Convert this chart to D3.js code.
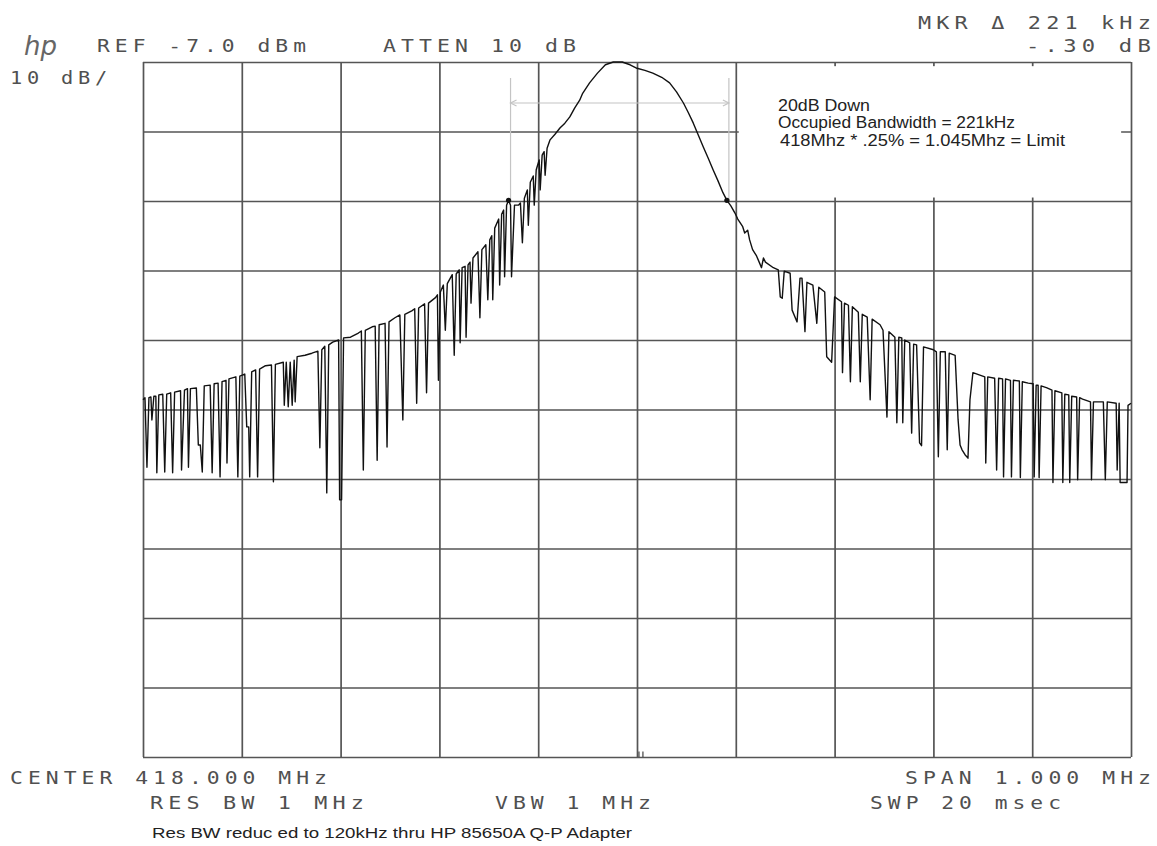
<!DOCTYPE html>
<html>
<head>
<meta charset="utf-8">
<script src="https://cdn.jsdelivr.net/npm/d3@7"></script>
<style>
  body { margin: 0; background: #fff; }
  .plot { font-family: "DejaVu Sans Mono", monospace; fill: #505050; letter-spacing: 4px; }
  .note { font-family: "Liberation Sans", Arial, sans-serif; fill: #222; }
</style>
</head>
<body>
<div id="chart"></div>
<script>
// trace: [offset from center in kHz, level in dBm]
const leftSkirt = [
  [-500,-55.6],[-498,-55.3],[-496,-65.3],[-494,-55.3],[-492,-55.2],[-491,-58.5],[-489,-55.1],
  [-487,-55.1],[-486,-66.1],[-484,-54.9],[-480,-54.8],[-478,-66.0],[-476,-54.8],[-472,-54.6],
  [-470,-66.1],[-468,-54.5],[-462,-54.3],[-461,-65.7],[-458,-54.2],[-455,-54.0],[-454,-65.3],
  [-452,-54.0],[-446,-53.9],[-444,-62.1],[-442,-62.1],[-440,-66.0],[-438,-53.6],[-432,-53.5],
  [-430,-66.1],[-428,-53.3],[-424,-53.2],[-422,-66.7],[-420,-53.0],[-416,-52.8],[-415,-64.7],
  [-413,-52.6],[-406,-52.3],[-404,-66.7],[-402,-52.2],[-397,-51.9],[-395,-59.5],[-393,-59.5],
  [-392,-66.7],[-390,-51.6],[-386,-51.3],[-384,-66.7],[-382,-51.2],[-376,-50.7],[-370,-50.6],
  [-368,-67.4],[-366,-50.5],[-358,-50.2],[-357,-56.4],[-355,-50.2],[-353,-56.6],[-351,-50.2],
  [-349,-56.4],[-347,-49.9],[-346,-55.9],[-344,-49.4],[-336,-49.2],[-329,-48.9],[-323,-48.6],
  [-321,-62.5],[-319,-48.4],[-316,-47.9],[-314,-69.0],[-312,-47.7],[-308,-47.3],[-302,-47.0],
  [-301,-70.0],[-299,-70.0],[-297,-46.7],[-290,-46.6],[-282,-46.0],[-279,-45.7],[-277,-65.7],
  [-275,-45.6],[-268,-45.1],[-265,-45.0],[-263,-64.3],[-261,-44.8],[-255,-44.6],[-253,-62.4],
  [-251,-44.4],[-245,-43.8],[-240,-43.4],[-237,-58.5],[-235,-43.3],[-228,-42.8],[-225,-42.5],
  [-223,-56.1],[-221,-42.4],[-215,-41.8],[-213,-54.6],[-211,-41.7],[-204,-40.9]
]

const mainLobe = [
  [-202,-40.5],[-201,-52.8],[-199,-40.1],[-196,-39.1],[-194,-45.6],[-192,-38.9],[-187,-37.6],
  [-185,-49.2],[-183,-37.5],[-180,-36.9],[-179,-47.4],[-177,-36.6],[-174,-36.4],[-173,-46.6],
  [-171,-36.2],[-169,-35.8],[-168,-41.7],[-166,-35.2],[-161,-34.3],[-159,-43.8],[-157,-34.0],
  [-153,-33.3],[-151,-41.2],[-149,-32.6],[-147,-32.0],[-146,-41.2],[-144,-30.9],[-140,-29.6],
  [-139,-39.1],[-137,-28.9],[-135,-28.3],[-134,-37.9],[-132,-27.6],[-130,-26.9],[-128,-27.6],
  [-127,-37.9],[-124,-27.6],[-120,-27.6],[-118,-27.3],[-116,-33.0],[-114,-26.6],[-111,-25.4],
  [-110,-30.5],[-108,-24.3],[-105,-23.4],[-104,-27.6],[-102,-22.5],[-99,-21.1],[-98,-25.4],
  [-96,-20.4],[-94,-19.9],[-93,-23.3],[-91,-19.4],[-88,-18.2],[-83,-17.4],[-78,-16.5],
  [-73,-15.8],[-68,-14.9],[-63,-13.6],[-58,-12.5],[-55,-11.5],[-48,-10.0],[-40,-8.6],
  [-32,-7.4],[-24,-7.0],[-15,-7.0],[-7,-7.4],[0,-7.9],[8,-8.2],[16,-8.6],[25,-9.2],
  [33,-10.0],[40,-11.3],[47,-12.9],[52,-14.3],[57,-15.8],[62,-17.5],[67,-19.2],[72,-20.8],
  [77,-22.5],[82,-24.1],[87,-25.8],[91,-26.9],[95,-27.7],[99,-28.7],[102,-29.6],[107,-30.7],
  [109,-31.6],[112,-31.2],[114,-32.6],[117,-34.0],[121,-34.9],[124,-35.9],[126,-36.6],
  [128,-35.2],[130,-35.8],[138,-36.6],[143,-36.9]
]

const rightSkirt = [
  [145,-40.8],[147,-41.0],[149,-37.1],[155,-37.4],[157,-42.7],[162,-44.4],[165,-38.1],
  [167,-38.1],[170,-45.8],[172,-38.7],[178,-39.1],[182,-44.6],[184,-39.4],[190,-40.1],
  [192,-49.4],[197,-50.2],[200,-40.8],[207,-41.5],[208,-51.7],[210,-41.7],[214,-42.0],
  [216,-53.0],[218,-42.2],[224,-43.0],[226,-53.0],[228,-43.3],[233,-43.7],[236,-55.6],
  [238,-44.0],[246,-44.8],[249,-45.6],[253,-58.1],[255,-45.8],[261,-46.6],[263,-58.9],
  [265,-46.6],[268,-46.7],[269,-58.9],[271,-47.0],[276,-47.4],[278,-60.4],[280,-47.6],
  [283,-47.7],[286,-61.8],[288,-62.2],[290,-48.0],[300,-48.4],[303,-48.7],[305,-63.8],
  [307,-48.7],[312,-48.7],[314,-62.8],[316,-48.9],[322,-49.2],[325,-58.5],[327,-62.1],
  [329,-62.8],[332,-63.5],[335,-64.0],[337,-55.6],[340,-51.7],[352,-52.3],[353,-64.7],
  [355,-52.3],[362,-52.5],[364,-65.7],[366,-52.5],[370,-52.6],[371,-66.7],[373,-52.6],
  [378,-52.8],[379,-66.7],[381,-52.8],[387,-52.9],[388,-66.8],[390,-53.0],[396,-53.2],
  [401,-53.3],[402,-66.7],[404,-53.5],[406,-53.5],[407,-66.8],[409,-53.6],[415,-53.9],
  [420,-54.2],[421,-67.5],[423,-54.3],[430,-54.6],[431,-67.5],[433,-54.8],[437,-54.9],
  [438,-67.5],[440,-55.1],[445,-55.2],[446,-67.1],[448,-55.3],[451,-55.5],[459,-55.9],
  [460,-67.1],[462,-55.9],[472,-55.9],[474,-67.1],[476,-55.9],[485,-56.1],[486,-65.7],
  [488,-56.1],[489,-67.5],[496,-67.5],[497,-56.4],[500,-56.1]
]

// 20 dB down markers and occupied bandwidth bracket
const markers = [[-130,-26.9],[91,-26.9]]
const obwEdges = [-128, 93]
const obwLevel = -12.9

// graticule: 10 divisions each way
const freqDivs = [-500,-400,-300,-200,-100,0,100,200,300,400,500]
const levelDivs = [-7,-17,-27,-37,-47,-57,-67,-77,-87,-97,-107]

// screen annotations
const headerTexts = [
  {t: "REF -7.0 dBm", x: 97, y: 52, w: 214},
  {t: "ATTEN 10 dB", x: 383, y: 52, w: 198},
  {t: "10 dB/", x: 10, y: 84, w: 102},
  {t: "MKR \u0394 221 kHz", x: 918, y: 29, w: 238},
  {t: "-.30 dB", x: 1026, y: 52, w: 130},
  {t: "CENTER 418.000 MHz", x: 10, y: 784, w: 322},
  {t: "RES BW 1 MHz", x: 150, y: 809, w: 219},
  {t: "VBW 1 MHz", x: 495, y: 809, w: 161},
  {t: "SPAN 1.000 MHz", x: 905, y: 784, w: 251},
  {t: "SWP 20 msec", x: 870, y: 809, w: 196}
]
const noteLines = [
  {t: "20dB Down", x: 778, y: 111, w: 92},
  {t: "Occupied Bandwidth = 221kHz", x: 778, y: 128, w: 237},
  {t: "418Mhz * .25% = 1.045Mhz = Limit", x: 780, y: 146, w: 285}
]
const footer = "Res BW reduc ed to 120kHz thru HP 85650A Q-P Adapter"

const width = 1157
const height = 846
const margin = {top: 62, right: 26, bottom: 89, left: 143}

const x = d3.scaleLinear()
  .domain([-500, 500])
  .range([margin.left, width - margin.right])

const y = d3.scaleLinear()
  .domain([-107, -7])
  .range([height - margin.bottom, margin.top])

const svg = d3.select("#chart")
  .append("svg")
  .attr("width", width)
  .attr("height", height)

// grid lines drawn with axes, labels off
svg.append("g")
  .attr("transform", `translate(0,${y(-107)})`)
  .call(d3.axisBottom(x).tickValues(freqDivs).tickSize(-(y(-107) - y(-7))).tickFormat(""))
  .call(g => g.select(".domain").remove())
  .selectAll("line").attr("stroke", "#555").attr("stroke-width", 1.7)

svg.append("g")
  .attr("transform", `translate(${x(-500)},0)`)
  .call(d3.axisLeft(y).tickValues(levelDivs).tickSize(-(x(500) - x(-500))).tickFormat(""))
  .call(g => g.select(".domain").remove())
  .selectAll("line").attr("stroke", "#555").attr("stroke-width", 1.7)

// occupied bandwidth bracket (faint)
const faint = svg.append("g").attr("stroke", "#c4c4c4").attr("stroke-width", 1.2)
faint.selectAll("line.v")
  .data(obwEdges)
  .join("line")
    .attr("x1", d => x(d)).attr("x2", d => x(d))
    .attr("y1", y(-9.3)).attr("y2", y(-27))
faint.append("line")
  .attr("x1", x(obwEdges[0])).attr("x2", x(obwEdges[1]))
  .attr("y1", y(obwLevel)).attr("y2", y(obwLevel))
faint.selectAll("path")
  .data(obwEdges)
  .join("path")
    .attr("fill", "none")
    .attr("d", (d, i) => {
      const px = x(d), py = y(obwLevel), s = i === 0 ? 6 : -6
      return `M${px + s},${py - 3}L${px},${py}L${px + s},${py + 3}`
    })

// white patch where the annotation was pasted over the screen
svg.append("rect")
  .attr("x", x(103)).attr("y", y(-7.6))
  .attr("width", x(490) - x(103)).attr("height", y(-26.5) - y(-7.6))
  .attr("fill", "#fff")

// trace
const trace = leftSkirt.concat(mainLobe, rightSkirt)
svg.append("path")
  .datum(trace)
  .attr("fill", "none")
  .attr("stroke", "#111")
  .attr("stroke-width", 1.4)
  .attr("stroke-linejoin", "round")
  .attr("d", d3.line().x(d => x(d[0])).y(d => y(d[1])))

svg.selectAll("circle.mk")
  .data(markers)
  .join("circle")
    .attr("cx", d => x(d[0])).attr("cy", d => y(d[1]))
    .attr("r", 2.6).attr("fill", "#111")

// center marker at the bottom
svg.append("path")
  .attr("d", `M${x(2)},${y(-107)}V${y(-106.2)}M${x(6)},${y(-107)}V${y(-106.2)}`)
  .attr("stroke", "#444").attr("stroke-width", 1.2)

// instrument text
svg.append("text")
  .attr("x", 24).attr("y", 55)
  .attr("font-family", "DejaVu Sans").attr("font-style", "italic")
  .attr("font-weight", 300)
  .attr("font-size", 26).attr("fill", "#666")
  .text("hp")

svg.selectAll("text.plot")
  .data(headerTexts)
  .join("text")
    .attr("class", "plot")
    .attr("x", d => d.x).attr("y", d => d.y)
    .attr("font-size", 17)
    .attr("textLength", d => d.w)
    .attr("lengthAdjust", "spacingAndGlyphs")
    .text(d => d.t)

svg.selectAll("text.note")
  .data(noteLines)
  .join("text")
    .attr("class", "note")
    .attr("x", d => d.x).attr("y", d => d.y)
    .attr("font-size", 16)
    .attr("textLength", d => d.w)
    .attr("lengthAdjust", "spacingAndGlyphs")
    .text(d => d.t)

svg.append("text")
  .attr("class", "note")
  .attr("x", 152).attr("y", 838)
  .attr("font-size", 15)
  .attr("textLength", 480)
  .attr("lengthAdjust", "spacingAndGlyphs")
  .text(footer)
</script>
</body>
</html>
